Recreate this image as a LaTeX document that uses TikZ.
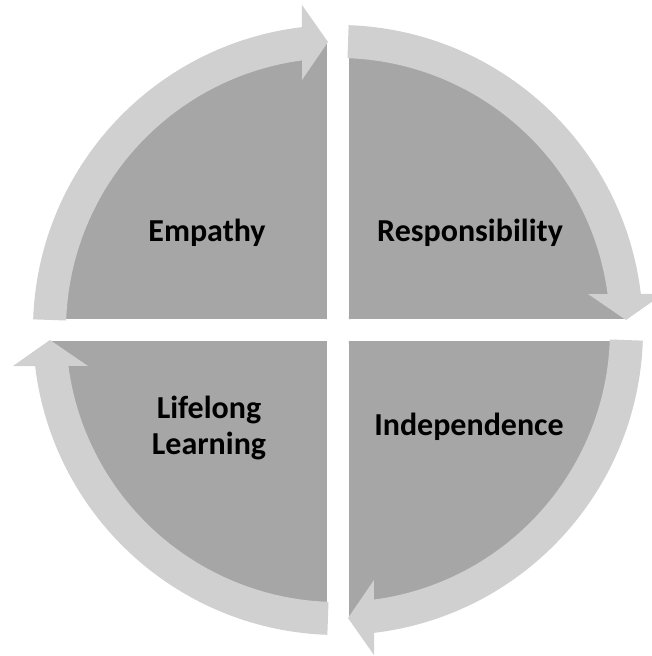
\documentclass[tikz,border=0pt]{standalone}
\usepackage{fontspec}
\setmainfont{Carlito}
\definecolor{ringgray}{HTML}{D0D0D0}
\definecolor{quadgray}{HTML}{A6A6A6}
\tikzset{
  quad/.style={fill=quadgray},
  ring/.style={fill=ringgray},
  lbl/.style={font=\fontsize{32}{36}\selectfont\bfseries, align=center, text=black}
}
\begin{document}
\begin{tikzpicture}[x=1pt,y=1pt]
					\tikzstyle{every node}+=[inner sep=0pt]
					\useasboundingbox (-338,-326) rectangle (314,330);
					\fill [quad] (-11,11) -- (92.2:288) arc[start angle=92.2,end angle=177.8,radius=288] -- cycle;
					\fill [quad] (11,11) -- (2.2:288) arc[start angle=2.2,end angle=87.8,radius=288] -- cycle;
					\fill [quad] (11,-11) -- (-87.8:288) arc[start angle=-87.8,end angle=-2.2,radius=288] -- cycle;
					\fill [quad] (-11,-11) -- (182.2:288) arc[start angle=182.2,end angle=267.8,radius=288] -- cycle;
					\fill [ring] (178:305) arc[start angle=178,end angle=96.8,radius=305] -- (-36,325) -- (-10,288) -- (-36,250) -- (97.6:272) arc[start angle=97.6,end angle=178,radius=272] -- cycle;
					\fill [ring] (88:305) arc[start angle=88,end angle=6.8,radius=305] -- (325,36) -- (288,10) -- (250,36) -- (7.6:272) arc[start angle=7.6,end angle=88,radius=272] -- cycle;
					\fill [ring] (-2:305) arc[start angle=-2,end angle=-83.2,radius=305] -- (36,-325) -- (10,-288) -- (36,-250) -- (-82.4:272) arc[start angle=-82.4,end angle=-2,radius=272] -- cycle;
					\fill [ring] (268:305) arc[start angle=268,end angle=186.8,radius=305] -- (-325,-36) -- (-288,-10) -- (-250,-36) -- (187.6:272) arc[start angle=187.6,end angle=268,radius=272] -- cycle;
					\node [lbl] (empathy) at (-131,97) {Empathy};
					\node [lbl] (resp) at (132,97) {Responsibility};
					\node [lbl] (indep) at (131,-97) {Independence};
					\node [lbl] (lifelong) at (-129,-98) {Lifelong\\Learning};
				\end{tikzpicture}
\end{document}
